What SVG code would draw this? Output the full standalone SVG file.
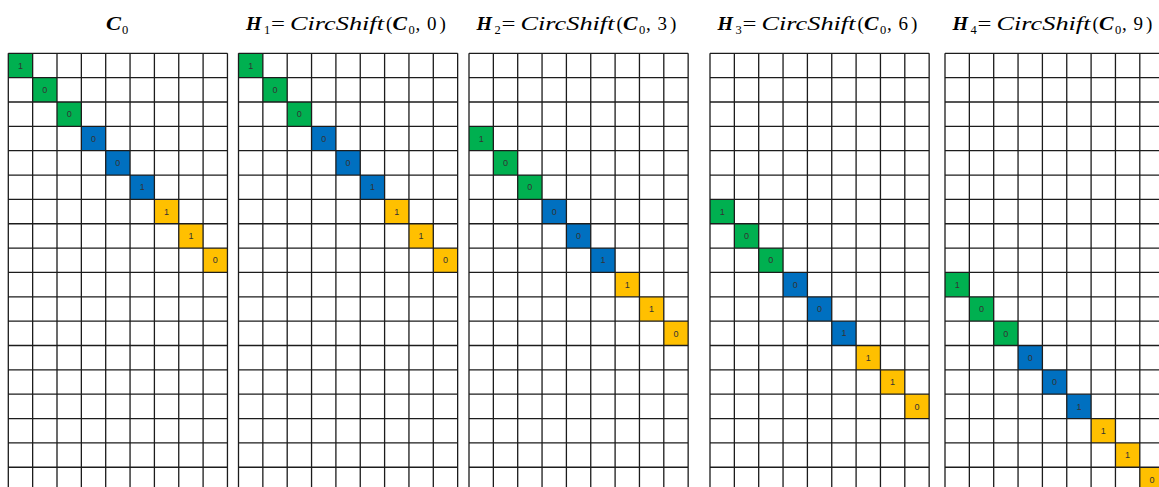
<svg xmlns="http://www.w3.org/2000/svg" width="1159" height="487" viewBox="0 0 1159 487">
  <style>
    .title text { font-family: "Liberation Serif", "DejaVu Serif", serif; font-size: 19px; fill: #000; }
    .title .bi { font-weight: bold; font-style: italic; }
    .title .it { font-style: italic; }
    .title .sub { font-size: 12.5px; }
    .g { fill: #00b050; }
    .b { fill: #0070c0; }
    .y { fill: #ffc000; }
    .v { font-family: "Liberation Sans", Arial, sans-serif; font-size: 9px; fill: #333; text-anchor: middle; }
    .lines { fill: none; stroke: #1c1c1c; stroke-width: 1.3; }
  </style>
  <defs>
    <!-- 9 x 18 lattice, cell pitch 24.35 -->
    <path id="lattice" class="lines" d="M0,0 V438.3 M24.35,0 V438.3 M48.7,0 V438.3 M73.05,0 V438.3 M97.4,0 V438.3 M121.75,0 V438.3 M146.1,0 V438.3 M170.45,0 V438.3 M194.8,0 V438.3 M219.15,0 V438.3 M0,0 H219.15 M0,24.35 H219.15 M0,48.7 H219.15 M0,73.05 H219.15 M0,97.4 H219.15 M0,121.75 H219.15 M0,146.1 H219.15 M0,170.45 H219.15 M0,194.8 H219.15 M0,219.15 H219.15 M0,243.5 H219.15 M0,267.85 H219.15 M0,292.2 H219.15 M0,316.55 H219.15 M0,340.9 H219.15 M0,365.25 H219.15 M0,389.6 H219.15 M0,413.95 H219.15 M0,438.3 H219.15"/>
    <!-- nine-cell diagonal block: 1 0 0 | 0 0 1 | 1 1 0 -->
    <g id="diag">
      <rect class="g" x="0" y="0" width="24.35" height="24.35"/>
      <rect class="g" x="24.35" y="24.35" width="24.35" height="24.35"/>
      <rect class="g" x="48.7" y="48.7" width="24.35" height="24.35"/>
      <rect class="b" x="73.05" y="73.05" width="24.35" height="24.35"/>
      <rect class="b" x="97.4" y="97.4" width="24.35" height="24.35"/>
      <rect class="b" x="121.75" y="121.75" width="24.35" height="24.35"/>
      <rect class="y" x="146.1" y="146.1" width="24.35" height="24.35"/>
      <rect class="y" x="170.45" y="170.45" width="24.35" height="24.35"/>
      <rect class="y" x="194.8" y="194.8" width="24.35" height="24.35"/>
      <text class="v" x="12.18" y="15.4">1</text>
      <text class="v" x="36.53" y="39.7">0</text>
      <text class="v" x="60.88" y="64.1">0</text>
      <text class="v" x="85.23" y="88.4">0</text>
      <text class="v" x="109.58" y="112.8">0</text>
      <text class="v" x="133.93" y="137.1">1</text>
      <text class="v" x="158.28" y="161.5">1</text>
      <text class="v" x="182.63" y="185.8">1</text>
      <text class="v" x="206.98" y="210.2">0</text>
    </g>
  </defs>

  <rect width="1159" height="487" fill="#fff"/>

  <!-- C0 -->
  <g id="c0">
    <g class="title">
      <text class="bi" x="106" y="30" textLength="15" lengthAdjust="spacingAndGlyphs">C</text>
      <text class="sub" x="122" y="34">0</text>
    </g>
    <g transform="translate(8.3,53.3)">
      <use href="#diag"/>
      <use href="#lattice"/>
    </g>
  </g>

  <!-- H1 = CircShift(C0, 0) -->
  <g id="h1">
    <g class="title" transform="translate(246,0)">
      <text class="bi" x="0" y="30" textLength="15.5" lengthAdjust="spacingAndGlyphs">H</text>
      <text class="sub" x="18" y="34">1</text>
      <text transform="translate(25,30) scale(1.3,1)">=</text>
      <text class="it" x="44" y="30" textLength="94" lengthAdjust="spacingAndGlyphs">CircShift</text>
      <text x="140" y="30">(</text>
      <text class="bi" x="146.5" y="30" textLength="14.5" lengthAdjust="spacingAndGlyphs">C</text>
      <text class="sub" x="162.5" y="34">0</text>
      <text x="169.5" y="30">,</text>
      <text x="181" y="30">0</text>
      <text x="193.5" y="30">)</text>
    </g>
    <g transform="translate(238.5,53.3)">
      <use href="#diag"/>
      <use href="#lattice"/>
    </g>
  </g>

  <!-- H2 = CircShift(C0, 3) -->
  <g id="h2">
    <g class="title" transform="translate(476.5,0)">
      <text class="bi" x="0" y="30" textLength="15.5" lengthAdjust="spacingAndGlyphs">H</text>
      <text class="sub" x="18" y="34">2</text>
      <text transform="translate(25,30) scale(1.3,1)">=</text>
      <text class="it" x="44" y="30" textLength="94" lengthAdjust="spacingAndGlyphs">CircShift</text>
      <text x="140" y="30">(</text>
      <text class="bi" x="146.5" y="30" textLength="14.5" lengthAdjust="spacingAndGlyphs">C</text>
      <text class="sub" x="162.5" y="34">0</text>
      <text x="169.5" y="30">,</text>
      <text x="181" y="30">3</text>
      <text x="193.5" y="30">)</text>
    </g>
    <g transform="translate(469,53.3)">
      <use href="#diag" transform="translate(0,73.05)"/>
      <use href="#lattice"/>
    </g>
  </g>

  <!-- H3 = CircShift(C0, 6) -->
  <g id="h3">
    <g class="title" transform="translate(717.5,0)">
      <text class="bi" x="0" y="30" textLength="15.5" lengthAdjust="spacingAndGlyphs">H</text>
      <text class="sub" x="18" y="34">3</text>
      <text transform="translate(25,30) scale(1.3,1)">=</text>
      <text class="it" x="44" y="30" textLength="94" lengthAdjust="spacingAndGlyphs">CircShift</text>
      <text x="140" y="30">(</text>
      <text class="bi" x="146.5" y="30" textLength="14.5" lengthAdjust="spacingAndGlyphs">C</text>
      <text class="sub" x="162.5" y="34">0</text>
      <text x="169.5" y="30">,</text>
      <text x="181" y="30">6</text>
      <text x="193.5" y="30">)</text>
    </g>
    <g transform="translate(710,53.3)">
      <use href="#diag" transform="translate(0,146.1)"/>
      <use href="#lattice"/>
    </g>
  </g>

  <!-- H4 = CircShift(C0, 9) -->
  <g id="h4">
    <g class="title" transform="translate(952.5,0)">
      <text class="bi" x="0" y="30" textLength="15.5" lengthAdjust="spacingAndGlyphs">H</text>
      <text class="sub" x="18" y="34">4</text>
      <text transform="translate(25,30) scale(1.3,1)">=</text>
      <text class="it" x="44" y="30" textLength="94" lengthAdjust="spacingAndGlyphs">CircShift</text>
      <text x="140" y="30">(</text>
      <text class="bi" x="146.5" y="30" textLength="14.5" lengthAdjust="spacingAndGlyphs">C</text>
      <text class="sub" x="162.5" y="34">0</text>
      <text x="169.5" y="30">,</text>
      <text x="181" y="30">9</text>
      <text x="193.5" y="30">)</text>
    </g>
    <g transform="translate(945,53.3)">
      <use href="#diag" transform="translate(0,219.15)"/>
      <use href="#lattice"/>
    </g>
  </g>

  <!-- no connectors in this figure -->
  <g id="connectors"/>
</svg>
